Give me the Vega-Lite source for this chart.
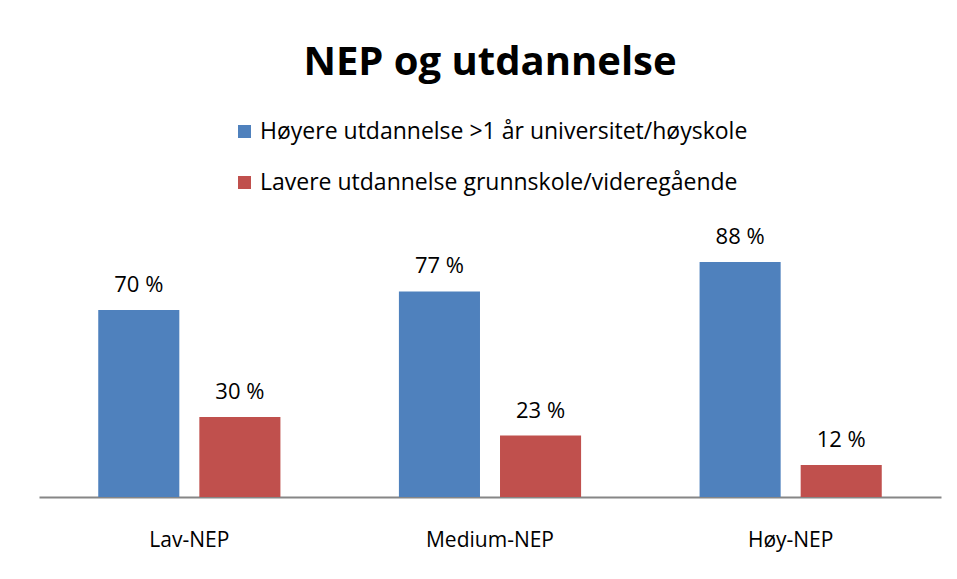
{
  "$schema": "https://vega.github.io/schema/vega-lite/v6.json",
  "width": 902,
  "height": 267,
  "autosize": {"type": "none"},
  "padding": {"left": 39, "top": 230, "right": 16, "bottom": 82},
  "background": "white",
  "title": {
    "text": "NEP og utdannelse",
    "font": "Open Sans",
    "fontSize": 40,
    "fontWeight": "bold",
    "color": "black",
    "anchor": "middle",
    "offset": 37
  },
  "data": {
    "values": [
      {"grp": "Lav-NEP", "s": "Høyere utdannelse >1 år universitet/høyskole", "v": 70, "lbl": "70 %"},
      {"grp": "Lav-NEP", "s": "Lavere utdannelse grunnskole/videregående", "v": 30, "lbl": "30 %"},
      {"grp": "Medium-NEP", "s": "Høyere utdannelse >1 år universitet/høyskole", "v": 77, "lbl": "77 %"},
      {"grp": "Medium-NEP", "s": "Lavere utdannelse grunnskole/videregående", "v": 23, "lbl": "23 %"},
      {"grp": "Høy-NEP", "s": "Høyere utdannelse >1 år universitet/høyskole", "v": 88, "lbl": "88 %"},
      {"grp": "Høy-NEP", "s": "Lavere utdannelse grunnskole/videregående", "v": 12, "lbl": "12 %"}
    ]
  },
  "encoding": {
    "x": {
      "field": "grp",
      "type": "nominal",
      "sort": ["Lav-NEP", "Medium-NEP", "Høy-NEP"],
      "scale": {"paddingInner": 0, "paddingOuter": 0},
      "axis": {
        "title": null,
        "labelAngle": 0,
        "labelFontSize": 21,
        "labelColor": "black",
        "labelPadding": 32,
        "ticks": false,
        "domainColor": "#868686",
        "domainWidth": 2
      }
    },
    "xOffset": {
      "field": "s",
      "type": "nominal",
      "sort": ["Høyere utdannelse >1 år universitet/høyskole", "Lavere utdannelse grunnskole/videregående"],
      "scale": {"paddingInner": 0.198, "paddingOuter": 0.586}
    },
    "y": {
      "field": "v",
      "type": "quantitative",
      "scale": {"domain": [0, 100]},
      "axis": null
    }
  },
  "layer": [
    {
      "mark": {"type": "bar"},
      "encoding": {
        "color": {
          "field": "s",
          "type": "nominal",
          "scale": {
            "domain": ["Høyere utdannelse >1 år universitet/høyskole", "Lavere utdannelse grunnskole/videregående"],
            "range": ["#4F81BD", "#C0504D"]
          },
          "legend": {
            "orient": "none",
            "legendX": 194,
            "legendY": -110,
            "direction": "vertical",
            "title": null,
            "symbolType": "square",
            "symbolSize": 169,
            "symbolStrokeWidth": 0,
            "labelFontSize": 23,
            "labelColor": "black",
            "labelLimit": 700,
            "rowPadding": 27,
            "labelOffset": 4
          }
        }
      }
    },
    {
      "mark": {"type": "text", "baseline": "alphabetic", "dy": -18, "fontSize": 22, "color": "black"},
      "encoding": {
        "text": {"field": "lbl"}
      }
    }
  ],
  "config": {
    "font": "Open Sans",
    "view": {"stroke": null}
  }
}
